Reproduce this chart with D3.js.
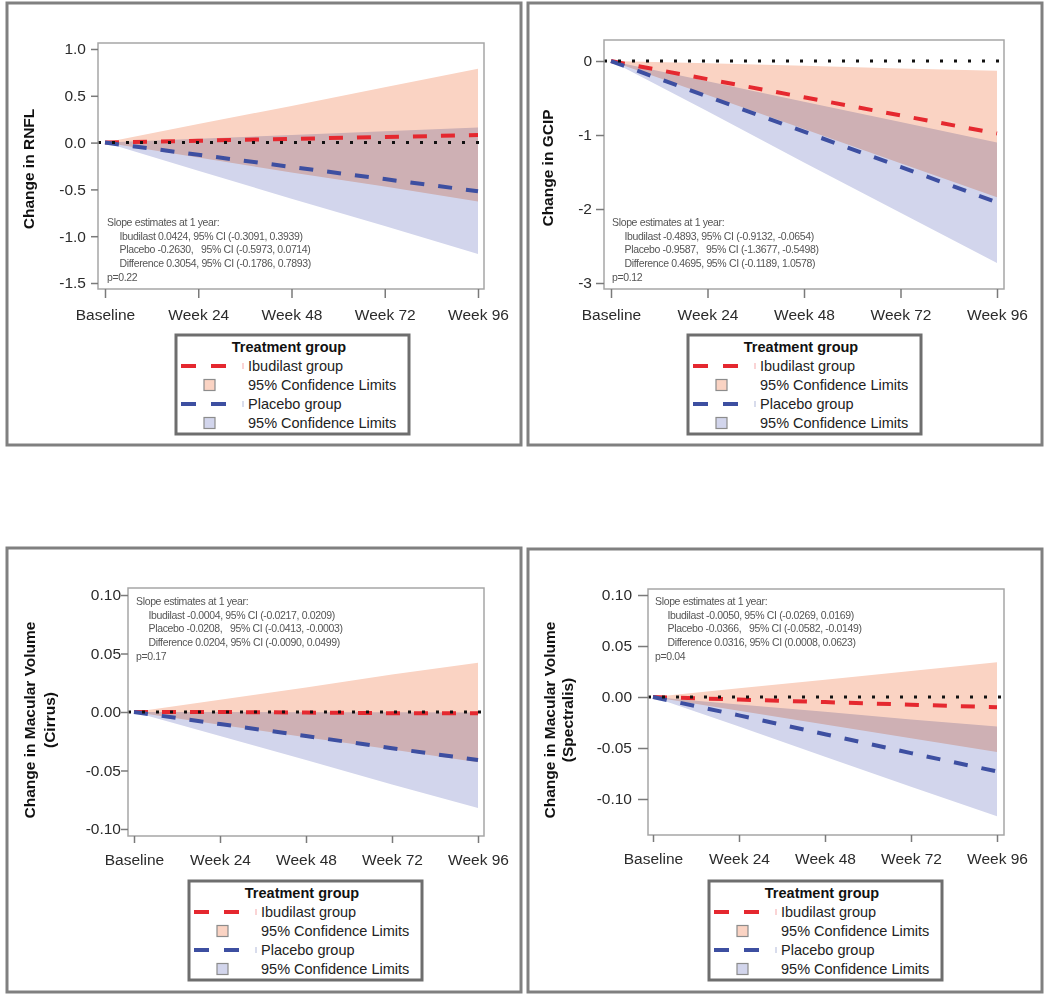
<!DOCTYPE html>
<html>
<head>
<meta charset="utf-8">
<script src="https://cdn.jsdelivr.net/npm/d3@7"></script>
<style>
	body { margin: 0; background: #fff; }
	svg text { font-family: "Liberation Sans", Arial, sans-serif; }
</style>
</head>
<body>
<svg id="chart" width="1050" height="998"></svg>
<script>
// visits on the x axis
var weeks = [0, 24, 48, 72, 96];
var weekLabels = ["Baseline", "Week 24", "Week 48", "Week 72", "Week 96"];

var legendTitle = "Treatment group";
var legendLabels = ["Ibudilast group", "95% Confidence Limits", "Placebo group", "95% Confidence Limits"];

// RNFL
var rnflTicks = [1.0, 0.5, 0.0, -0.5, -1.0, -1.5];
var rnflIbudilast = [0, 0.02, 0.04, 0.06, 0.08];
var rnflIbudilastLower = [0, -0.16, -0.32, -0.47, -0.63];
var rnflIbudilastUpper = [0, 0.20, 0.39, 0.59, 0.79];
var rnflPlacebo = [0, -0.13, -0.26, -0.39, -0.52];
var rnflPlaceboLower = [0, -0.30, -0.60, -0.89, -1.19];
var rnflPlaceboUpper = [0, 0.04, 0.08, 0.12, 0.16];
var rnflNote = ["Slope estimates at 1 year:",
	"Ibudilast 0.0424, 95% CI (-0.3091, 0.3939)",
	"Placebo -0.2630,   95% CI (-0.5973, 0.0714)",
	"Difference 0.3054, 95% CI (-0.1786, 0.7893)",
	"p=0.22"];

// GCIP
var gcipTicks = [0, -1, -2, -3];
var gcipIbudilast = [0, -0.245, -0.49, -0.735, -0.98];
var gcipIbudilastLower = [0, -0.46, -0.92, -1.38, -1.84];
var gcipIbudilastUpper = [0, -0.03, -0.065, -0.10, -0.13];
var gcipPlacebo = [0, -0.48, -0.955, -1.43, -1.91];
var gcipPlaceboLower = [0, -0.68, -1.37, -2.05, -2.73];
var gcipPlaceboUpper = [0, -0.275, -0.55, -0.825, -1.10];
var gcipNote = ["Slope estimates at 1 year:",
	"Ibudilast -0.4893, 95% CI (-0.9132, -0.0654)",
	"Placebo -0.9587,   95% CI (-1.3677, -0.5498)",
	"Difference 0.4695, 95% CI (-0.1189, 1.0578)",
	"p=0.12"];

// Macular volume, Cirrus
var cirrusTicks = [0.10, 0.05, 0.00, -0.05, -0.10];
var cirrusIbudilast = [0, 0, -0.0005, -0.001, -0.001];
var cirrusIbudilastLower = [0, -0.011, -0.0215, -0.032, -0.043];
var cirrusIbudilastUpper = [0, 0.0105, 0.021, 0.032, 0.042];
var cirrusPlacebo = [0, -0.0103, -0.0205, -0.031, -0.041];
var cirrusPlaceboLower = [0, -0.0205, -0.041, -0.062, -0.082];
var cirrusPlaceboUpper = [0, 0, -0.0002, -0.0003, -0.0004];
var cirrusNote = ["Slope estimates at 1 year:",
	"Ibudilast -0.0004, 95% CI (-0.0217, 0.0209)",
	"Placebo -0.0208,   95% CI (-0.0413, -0.0003)",
	"Difference 0.0204, 95% CI (-0.0090, 0.0499)",
	"p=0.17"];

// Macular volume, Spectralis
var spectTicks = [0.10, 0.05, 0.00, -0.05, -0.10];
var spectIbudilast = [0, -0.0025, -0.005, -0.0075, -0.010];
var spectIbudilastLower = [0, -0.0135, -0.027, -0.0405, -0.054];
var spectIbudilastUpper = [0, 0.0085, 0.017, 0.0255, 0.034];
var spectPlacebo = [0, -0.018, -0.0365, -0.055, -0.073];
var spectPlaceboLower = [0, -0.029, -0.0585, -0.088, -0.117];
var spectPlaceboUpper = [0, -0.0073, -0.0145, -0.022, -0.029];
var spectNote = ["Slope estimates at 1 year:",
	"Ibudilast -0.0050, 95% CI (-0.0269, 0.0169)",
	"Placebo -0.0366,   95% CI (-0.0582, -0.0149)",
	"Difference 0.0316, 95% CI (0.0008, 0.0623)",
	"p=0.04"];

var red = "#e5282f", blue = "#3d4fa1";
var redBand = "#fad3c3", blueBand = "#d2d5ec";

var locale = d3.formatLocale({decimal: ".", thousands: ",", grouping: [3], currency: ["$", ""], minus: "-"});

var panels = [
	{border: [7, 3, 521, 445], plot: [98, 43, 484, 289], xr: [105, 478], yd: [-1.564, 1.064],
	 ticks: rnflTicks, fmt: ".1f", tickLen: 7, tickPad: 5, xTick: 9, xPad: 11,
	 title: ["Change in RNFL"], titleX: [29], titleY: 169,
	 ib: rnflIbudilast, ibLo: rnflIbudilastLower, ibHi: rnflIbudilastUpper,
	 pl: rnflPlacebo, plLo: rnflPlaceboLower, plHi: rnflPlaceboUpper,
	 note: rnflNote, noteX: 107, noteY: 222, legend: [176, 335]},
	{border: [528, 3, 1042, 445], plot: [604, 40, 1004, 289], xr: [611, 997], yd: [-3.081, 0.284],
	 ticks: gcipTicks, fmt: "d", tickLen: 8, tickPad: 4, xTick: 9, xPad: 11,
	 title: ["Change in GCIP"], titleX: [548], titleY: 168,
	 ib: gcipIbudilast, ibLo: gcipIbudilastLower, ibHi: gcipIbudilastUpper,
	 pl: gcipPlacebo, plLo: gcipPlaceboLower, plHi: gcipPlaceboUpper,
	 note: gcipNote, noteX: 612, noteY: 222, legend: [688, 335]},
	{border: [7, 548, 521, 992], plot: [128, 588, 484, 836], xr: [134, 478], yd: [-0.106, 0.106],
	 ticks: cirrusTicks, fmt: ".2f", tickLen: 7, tickPad: 0, xTick: 7, xPad: 11,
	 title: ["Change in Macular Volume", "(Cirrus)"], titleX: [30, 50], titleY: 720,
	 ib: cirrusIbudilast, ibLo: cirrusIbudilastLower, ibHi: cirrusIbudilastUpper,
	 pl: cirrusPlacebo, plLo: cirrusPlaceboLower, plHi: cirrusPlaceboUpper,
	 note: cirrusNote, noteX: 136, noteY: 601, legend: [189, 881]},
	{border: [528, 549, 1042, 992], plot: [648, 589, 1004, 835], xr: [653, 997], yd: [-0.1353, 0.1059],
	 ticks: spectTicks, fmt: ".2f", tickLen: 10, tickPad: 6, xTick: 7, xPad: 11,
	 title: ["Change in Macular Volume", "(Spectralis)"], titleX: [550, 568], titleY: 720,
	 ib: spectIbudilast, ibLo: spectIbudilastLower, ibHi: spectIbudilastUpper,
	 pl: spectPlacebo, plLo: spectPlaceboLower, plHi: spectPlaceboUpper,
	 note: spectNote, noteX: 655, noteY: 601, legend: [709, 881]}
];

var svg = d3.select("#chart");
panels.forEach(drawPanel);

function drawPanel(p) {
	var g = svg.append("g");

	g.append("rect")
		.attr("x", p.border[0]).attr("y", p.border[1])
		.attr("width", p.border[2] - p.border[0]).attr("height", p.border[3] - p.border[1])
		.attr("fill", "none").attr("stroke", "#808080").attr("stroke-width", 3);

	var x = d3.scaleLinear().domain([0, 96]).range(p.xr);
	var y = d3.scaleLinear().domain(p.yd).range([p.plot[3], p.plot[1]]);

	var area = d3.area()
		.x(function(d, i) { return x(weeks[i]); })
		.y0(function(d) { return y(d[0]); })
		.y1(function(d) { return y(d[1]); });

	var line = d3.line()
		.x(function(d, i) { return x(weeks[i]); })
		.y(function(d) { return y(d); });

	// confidence bands, multiplied so the overlap goes mauve
	g.append("path").datum(d3.zip(p.ibLo, p.ibHi))
		.attr("d", area).attr("fill", redBand).style("mix-blend-mode", "multiply");
	g.append("path").datum(d3.zip(p.plLo, p.plHi))
		.attr("d", area).attr("fill", blueBand).style("mix-blend-mode", "multiply");

	g.append("path").datum(p.ib).attr("d", line)
		.attr("fill", "none").attr("stroke", red).attr("stroke-width", 4)
		.attr("stroke-dasharray", "14,14");
	g.append("path").datum(p.pl).attr("d", line)
		.attr("fill", "none").attr("stroke", blue).attr("stroke-width", 4)
		.attr("stroke-dasharray", "14,14");

	// reference line at zero
	g.append("line")
		.attr("x1", p.plot[0]).attr("x2", p.plot[2])
		.attr("y1", y(0)).attr("y2", y(0))
		.attr("stroke", "#111").attr("stroke-width", 3)
		.attr("stroke-dasharray", "3,11");

	g.append("rect")
		.attr("x", p.plot[0]).attr("y", p.plot[1])
		.attr("width", p.plot[2] - p.plot[0]).attr("height", p.plot[3] - p.plot[1])
		.attr("fill", "none").attr("stroke", "#a6a6a6").attr("stroke-width", 1.5);

	var yAxis = d3.axisLeft(y)
		.tickValues(p.ticks)
		.tickFormat(locale.format(p.fmt))
		.tickSize(p.tickLen)
		.tickPadding(p.tickPad);
	var ya = g.append("g").attr("transform", "translate(" + p.plot[0] + ",0)").call(yAxis);

	var xAxis = d3.axisBottom(x)
		.tickValues(weeks)
		.tickFormat(function(d, i) { return weekLabels[i]; })
		.tickSize(p.xTick)
		.tickPadding(p.xPad);
	var xa = g.append("g").attr("transform", "translate(0," + p.plot[3] + ")").call(xAxis);

	[ya, xa].forEach(function(a) {
		a.select(".domain").remove();
		a.selectAll(".tick line").attr("stroke", "#7a7a7a").attr("stroke-width", 1.5);
		a.selectAll(".tick text").attr("fill", "#2b2b2b").style("font-size", "15.5px")
			.style("font-family", "'Liberation Sans', Arial, sans-serif");
	});

	p.title.forEach(function(t, i) {
		g.append("text")
			.attr("transform", "translate(" + p.titleX[i] + "," + p.titleY + ") rotate(-90)")
			.attr("text-anchor", "middle").attr("dy", "0.35em")
			.style("font-size", "15.5px").style("font-weight", "bold").attr("fill", "#111")
			.text(t);
	});

	// slope annotation
	var offsets = [0, 14, 27.5, 41, 55];
	p.note.forEach(function(t, i) {
		var indent = (i > 0 && i < 4) ? 12.5 : 0;
		g.append("text")
			.attr("x", p.noteX + indent).attr("y", p.noteY + offsets[i]).attr("dy", "0.35em")
			.style("font-size", "10.5px").style("letter-spacing", "-0.35px").style("white-space", "pre")
			.attr("fill", "#555")
			.text(t);
	});

	drawLegend(g, p.legend[0], p.legend[1]);
}

function drawLegend(g, lx, ly) {
	var lg = g.append("g").attr("transform", "translate(" + lx + "," + ly + ")");
	lg.append("rect").attr("width", 233).attr("height", 99)
		.attr("fill", "#fff").attr("stroke", "#6e6e6e").attr("stroke-width", 3);
	lg.append("text").attr("x", 113).attr("y", 12).attr("dy", "0.35em")
		.attr("text-anchor", "middle").style("font-size", "14.5px").style("font-weight", "bold")
		.attr("fill", "#111").text(legendTitle);

	var rows = [31, 50, 69, 88];
	var kinds = [
		{type: "line", color: red},
		{type: "box", color: redBand},
		{type: "line", color: blue},
		{type: "box", color: blueBand}
	];
	kinds.forEach(function(k, i) {
		var ry = rows[i];
		if (k.type == "line") {
			lg.append("line").attr("x1", 5).attr("x2", 65).attr("y1", ry).attr("y2", ry)
				.attr("stroke", k.color).attr("stroke-width", 4).attr("stroke-dasharray", "15,15");
			lg.append("line").attr("x1", 67).attr("x2", 67).attr("y1", ry - 3).attr("y2", ry + 3)
				.attr("stroke", k.color).attr("stroke-opacity", 0.4).attr("stroke-width", 1);
		} else {
			lg.append("rect").attr("x", 28).attr("y", ry - 5.5).attr("width", 11).attr("height", 11)
				.attr("fill", k.color).attr("stroke", "#8c8c8c").attr("stroke-width", 1.2);
		}
		lg.append("text").attr("x", 72).attr("y", ry).attr("dy", "0.35em")
			.style("font-size", "14.5px").attr("fill", "#222").text(legendLabels[i]);
	});
}
</script>
</body>
</html>
